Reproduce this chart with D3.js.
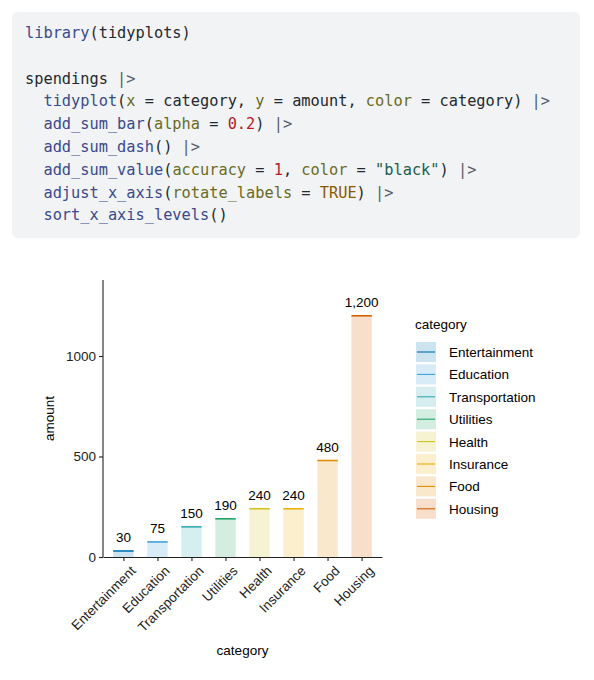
<!DOCTYPE html>
<html>
<head>
<meta charset="utf-8">
<script src="https://cdn.jsdelivr.net/npm/d3@7"></script>
<style>
  body { margin: 0; background: #fff; }
  text { font-family: "Liberation Sans", Arial, sans-serif; }
  text.code { font-family: "DejaVu Sans Mono", monospace; font-size: 15.3px; }
</style>
</head>
<body>
<div id="chart"></div>
<script>
// data
var categories = ["Entertainment", "Education", "Transportation", "Utilities", "Health", "Insurance", "Food", "Housing"];
var amounts = [30, 75, 150, 190, 240, 240, 480, 1200];
var colors = ["#0072B2", "#3DA1D9", "#31AAB6", "#23A465", "#D2C11E", "#ECB007", "#E18C00", "#D55E00"];
var yTicks = [0, 500, 1000];

// code lines shown above the chart, as [text, colour] pieces
var codeLines = [
  [["library", "#3b4a8c"], ["(tidyplots)", "#24292f"]],
  [],
  [["spendings ", "#24292f"], ["|>", "#57606a"]],
  [["  tidyplot", "#3b4a8c"], ["(", "#24292f"], ["x", "#6a6a1f"], [" = category, ", "#24292f"], ["y", "#6a6a1f"], [" = amount, ", "#24292f"], ["color", "#6a6a1f"], [" = category) ", "#24292f"], ["|>", "#57606a"]],
  [["  add_sum_bar", "#3b4a8c"], ["(", "#24292f"], ["alpha", "#6a6a1f"], [" = ", "#24292f"], ["0.2", "#b31d28"], [") ", "#24292f"], ["|>", "#57606a"]],
  [["  add_sum_dash", "#3b4a8c"], ["() ", "#24292f"], ["|>", "#57606a"]],
  [["  add_sum_value", "#3b4a8c"], ["(", "#24292f"], ["accuracy", "#6a6a1f"], [" = ", "#24292f"], ["1", "#b31d28"], [", ", "#24292f"], ["color", "#6a6a1f"], [" = ", "#24292f"], ["\"black\"", "#1c5c4c"], [") ", "#24292f"], ["|>", "#57606a"]],
  [["  adjust_x_axis", "#3b4a8c"], ["(", "#24292f"], ["rotate_labels", "#6a6a1f"], [" = ", "#24292f"], ["TRUE", "#8a5a00"], [") ", "#24292f"], ["|>", "#57606a"]],
  [["  sort_x_axis_levels", "#3b4a8c"], ["()", "#24292f"]]
];

var W = 594, H = 680;
var svg = d3.select("#chart").append("svg")
    .attr("width", W)
    .attr("height", H);

// code block
svg.append("rect")
    .attr("x", 12).attr("y", 12)
    .attr("width", 568).attr("height", 226)
    .attr("rx", 6)
    .attr("fill", "#f1f3f5");

codeLines.forEach(function (line, i) {
    var t = svg.append("text")
        .attr("class", "code")
        .attr("x", 25)
        .attr("y", 38 + i * 22.8)
        .attr("xml:space", "preserve")
        .style("white-space", "pre");
    line.forEach(function (p) {
        t.append("tspan").attr("fill", p[1]).text(p[0]);
    });
});

// plot area
var pLeft = 103, pRight = 382, pTop = 280, pBottom = 557;

var x = d3.scaleLinear()
    .domain([0.4, categories.length + 0.6])
    .range([pLeft, pRight]);
var y = d3.scaleLinear()
    .domain([0, 1378])
    .range([pBottom, pTop]);
var barW = (x(1) - x(0)) * 0.6;
var fmt = d3.format(",");

var plot = svg.append("g");

// bars
plot.selectAll("rect.bar")
    .data(categories)
    .enter()
    .append("rect")
    .attr("class", "bar")
    .attr("x", function (d, i) { return x(i + 1) - barW / 2; })
    .attr("width", barW)
    .attr("y", function (d, i) { return y(amounts[i]); })
    .attr("height", function (d, i) { return y(0) - y(amounts[i]); })
    .attr("fill", function (d, i) { return colors[i]; })
    .attr("fill-opacity", 0.2);

// dashes
plot.selectAll("line.dash")
    .data(categories)
    .enter()
    .append("line")
    .attr("x1", function (d, i) { return x(i + 1) - barW / 2; })
    .attr("x2", function (d, i) { return x(i + 1) + barW / 2; })
    .attr("y1", function (d, i) { return y(amounts[i]); })
    .attr("y2", function (d, i) { return y(amounts[i]); })
    .attr("stroke", function (d, i) { return colors[i]; })
    .attr("stroke-width", 1.6);

// values
plot.selectAll("text.val")
    .data(categories)
    .enter()
    .append("text")
    .attr("x", function (d, i) { return x(i + 1); })
    .attr("y", function (d, i) { return y(amounts[i]) - 9; })
    .attr("text-anchor", "middle")
    .attr("font-size", 13.5)
    .attr("fill", "#000")
    .text(function (d, i) { return fmt(amounts[i]); });

// axes
var yAxis = svg.append("g")
    .attr("transform", "translate(" + pLeft + ",0)")
    .call(d3.axisLeft(y).tickValues(yTicks).tickFormat(d3.format("d"))
        .tickSize(4).tickPadding(3).tickSizeOuter(0));
yAxis.select(".domain").attr("d", "M0," + pTop + "V" + pBottom);

var xAxis = svg.append("g")
    .attr("transform", "translate(0," + pBottom + ")")
    .call(d3.axisBottom(x)
        .tickValues(d3.range(1, categories.length + 1))
        .tickFormat(function (d) { return categories[d - 1]; })
        .tickSize(4).tickSizeOuter(0));

[yAxis, xAxis].forEach(function (a) {
    a.selectAll(".domain, line").attr("stroke", "#222").attr("stroke-width", 1.1);
    a.selectAll("text").attr("fill", "#222").attr("font-size", 13.5)
        .style("font-family", "'Liberation Sans', Arial, sans-serif");
});

xAxis.selectAll("text")
    .attr("text-anchor", "end")
    .attr("dy", "0.7em")
    .attr("transform", "translate(1,3) rotate(-45)");

// axis titles
svg.append("text")
    .attr("x", (pLeft + pRight) / 2).attr("y", 655)
    .attr("text-anchor", "middle")
    .attr("font-size", 13.5).attr("fill", "#000")
    .text("category");
svg.append("text")
    .attr("transform", "translate(54," + ((pTop + pBottom) / 2) + ") rotate(-90)")
    .attr("text-anchor", "middle")
    .attr("font-size", 13.5).attr("fill", "#000")
    .text("amount");

// legend
var legend = svg.append("g").attr("transform", "translate(415,0)");
legend.append("text")
    .attr("x", 0).attr("y", 329)
    .attr("font-size", 13.5).attr("fill", "#000")
    .text("category");
var item = legend.selectAll("g.item")
    .data(categories)
    .enter()
    .append("g")
    .attr("transform", function (d, i) { return "translate(1," + (342 + i * 22.4) + ")"; });
item.append("rect")
    .attr("width", 20).attr("height", 20)
    .attr("fill", function (d, i) { return colors[i]; })
    .attr("fill-opacity", 0.2);
item.append("line")
    .attr("x1", 1).attr("x2", 19)
    .attr("y1", 10).attr("y2", 10)
    .attr("stroke", function (d, i) { return colors[i]; })
    .attr("stroke-width", 1.1);
item.append("text")
    .attr("x", 33).attr("y", 15)
    .attr("font-size", 13.5).attr("fill", "#000")
    .text(function (d) { return d; });
</script>
</body>
</html>
